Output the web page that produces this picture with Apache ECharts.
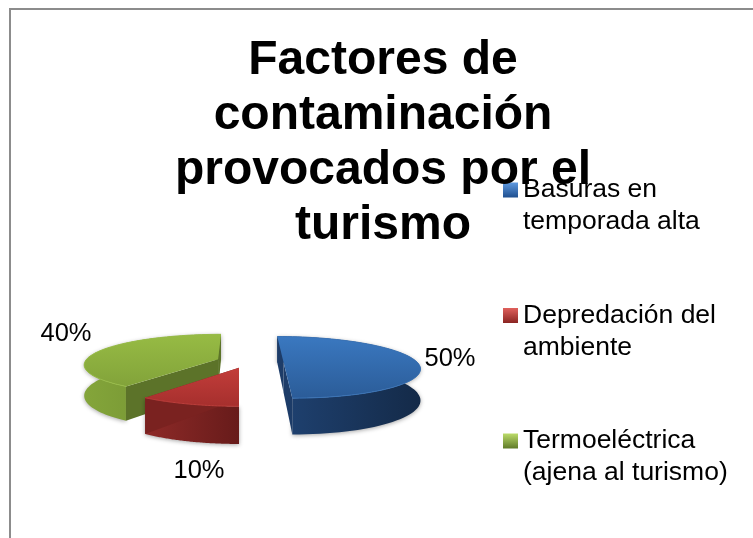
<!DOCTYPE html>
<html>
<head>
<meta charset="utf-8">
<style>html,body{margin:0;padding:0;background:#fff}#c{width:753px;height:538px}</style>
<script src="https://cdn.jsdelivr.net/npm/echarts@6/dist/echarts.min.js"></script>
</head>
<body>
<div id="c"></div>
<script>
const titleText = 'Factores de\ncontaminación\nprovocados por el\nturismo';
const categories = ['Basuras en\ntemporada alta', 'Depredación del\nambiente', 'Termoeléctrica\n(ajena al turismo)'];
const values = [50, 10, 40];

const explode = [[44, 10], [0, 34], [-21, -3]];
const labelPos = [[450, 359], [199, 471], [66, 334]];
const palette = [
  {top: ['#3a78c0', '#2b5c98'], wall: ['#1f4272', '#142a48'], cut: '#1d3c68', rim: '#3a73b6', leg: ['#5f9ae0', '#1f4f8f']},
  {top: ['#c23d3a', '#a62f2d'], wall: ['#8e2a28', '#671b1a'], cut: '#7a2220', rim: '#bd3f3c', leg: ['#e0605c', '#8a2422']},
  {top: ['#97bb44', '#82a33a'], wall: ['#84a53a', '#6b8a2f'], cut: '#5c7329', rim: '#98bc48', leg: ['#bcdc6a', '#5f7a28']}
];
const R = 132, D = 812, H = 180, DEPTH = 30, VX = 239, VY = 180;
const total = values.reduce((a, b) => a + b, 0);

function project(X, Y, Z) {
  const s = D / (D - Y);
  return [VX + X * s, VY + (H + Z) * s];
}
function rimPoint(i, t, z) {
  return project(explode[i][0] + R * Math.sin(t), explode[i][1] - R * Math.cos(t), z);
}
function apex(i, z) {
  return project(explode[i][0], explode[i][1], z);
}
function lg(a, b, horizontal) {
  return new echarts.graphic.LinearGradient(0, 0, horizontal ? 1 : 0, horizontal ? 0 : 1, [
    {offset: 0, color: a}, {offset: 1, color: b}
  ]);
}
function sliceRender(i) {
  return function (params, api) {
    const v = api.value(0);
    let before = 0;
    for (let k = 0; k < i; k++) before += values[k];
    const a0 = before / total * 2 * Math.PI;
    const a1 = (before + v) / total * 2 * Math.PI;
    const top = [], bottom = [];
    const n = 72;
    for (let k = 0; k <= n; k++) {
      const t = a0 + (a1 - a0) * k / n;
      top.push(rimPoint(i, t, 0));
      bottom.push(rimPoint(i, t, DEPTH));
    }
    const p = palette[i];
    const A = apex(i, 0), B = apex(i, DEPTH);
    const wallPts = top.concat(bottom.slice().reverse());
    return {
      type: 'group',
      children: [
        {type: 'polygon', shape: {points: wallPts},
          style: {fill: lg(p.wall[0], p.wall[1], true), shadowBlur: 4, shadowColor: 'rgba(0,0,0,0.35)', shadowOffsetY: 1}},
        {type: 'polygon', shape: {points: [A, top[0], bottom[0], B]}, style: {fill: p.cut}},
        {type: 'polygon', shape: {points: [A, top[n], bottom[n], B]}, style: {fill: p.cut}},
        {type: 'polygon', shape: {points: [A].concat(top)}, style: {fill: lg(p.top[0], p.top[1], false)}},
        {type: 'polyline', shape: {points: top}, style: {fill: 'none', stroke: p.rim, lineWidth: 1}},
        {type: 'text', silent: true,
          style: {text: v + '%', x: labelPos[i][0], y: labelPos[i][1], align: 'center', verticalAlign: 'middle',
            font: '25.5px "Liberation Sans", Arial, sans-serif', fill: '#000'}}
      ]
    };
  };
}

const drawOrder = [2, 0, 1];
const chart = echarts.init(document.getElementById('c'), null, {renderer: 'canvas'});
chart.setOption({
  animation: false,
  backgroundColor: '#fff',
  title: {
    text: titleText, left: 378, top: 28, textAlign: 'center',
    textStyle: {fontFamily: '"Liberation Sans", Arial, sans-serif', fontWeight: 'bold', fontSize: 48, lineHeight: 55, color: '#000'}
  },
  legend: {
    orient: 'vertical', left: 498, top: 137,
    itemWidth: 15, itemHeight: 15, itemGap: 29.5,
    selectedMode: false,
    formatter: name => '\n' + name,
    textStyle: {
      fontFamily: '"Liberation Sans", Arial, sans-serif', fontSize: 26.5, lineHeight: 32, color: '#000'
    },
    data: categories.map((name, i) => ({
      name, icon: 'rect', itemStyle: {color: lg(palette[i].leg[0], palette[i].leg[1], false)}
    }))
  },
  graphic: [
    {type: 'rect', shape: {x: 9, y: 8, width: 744, height: 2}, style: {fill: '#8c8c8c'}},
    {type: 'rect', shape: {x: 9, y: 8, width: 2, height: 530}, style: {fill: '#8c8c8c'}}
  ],
  series: drawOrder.map((i, order) => ({
    type: 'custom', name: categories[i], coordinateSystem: 'none', z: 2 + order,
    renderItem: sliceRender(i), silent: true,
    itemStyle: {color: palette[i].top[0]},
    data: [[values[i]]]
  }))
});
</script>
</body>
</html>
